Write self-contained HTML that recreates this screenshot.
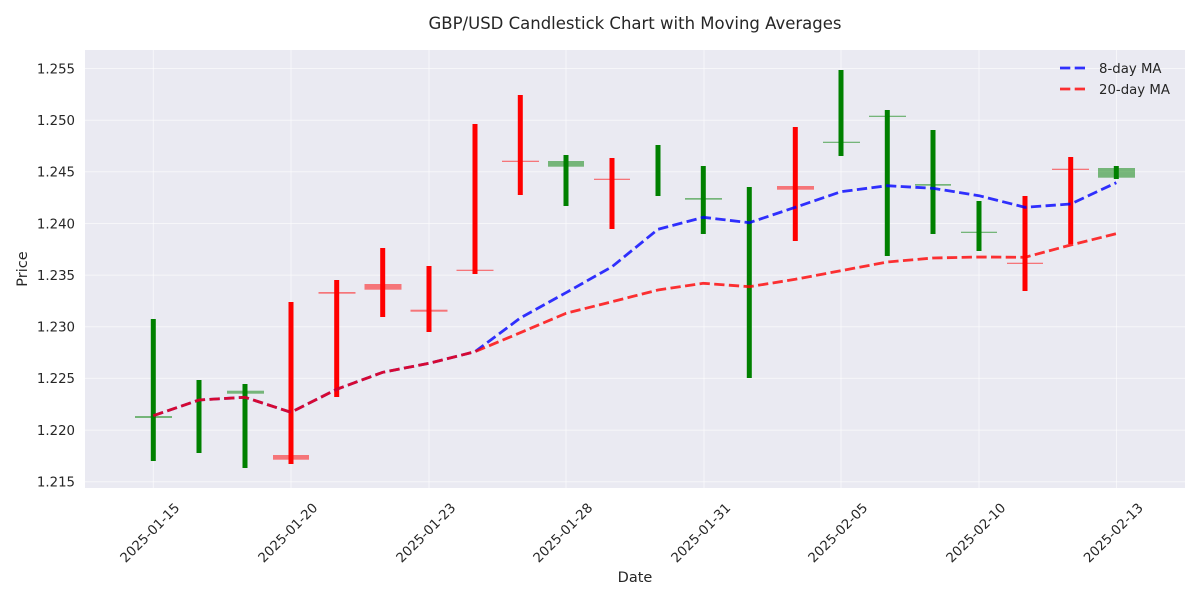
<!DOCTYPE html>
<html><head><meta charset="utf-8"><style>
body{margin:0;background:#fff}
svg{display:block}
text{font-family:"DejaVu Sans","Liberation Sans",sans-serif;fill:#262626}
</style></head><body>
<svg width="1200" height="600" xmlns="http://www.w3.org/2000/svg">
<rect x="0" y="0" width="1200" height="600" fill="#fff"/>
<rect x="85" y="50" width="1100" height="438" fill="#eaeaf2"/>
<g stroke="#fff" stroke-width="1" stroke-opacity="0.55">
<line x1="85" x2="1185" y1="68.5" y2="68.5"/><line x1="85" x2="1185" y1="120.2" y2="120.2"/>
<line x1="85" x2="1185" y1="171.8" y2="171.8"/><line x1="85" x2="1185" y1="223.5" y2="223.5"/>
<line x1="85" x2="1185" y1="275.1" y2="275.1"/><line x1="85" x2="1185" y1="326.8" y2="326.8"/>
<line x1="85" x2="1185" y1="378.4" y2="378.4"/><line x1="85" x2="1185" y1="430.1" y2="430.1"/>
<line x1="85" x2="1185" y1="481.7" y2="481.7"/>
<line y1="50" y2="488" x1="153.3" x2="153.3"/><line y1="50" y2="488" x1="291" x2="291"/>
<line y1="50" y2="488" x1="429" x2="429"/><line y1="50" y2="488" x1="566" x2="566"/>
<line y1="50" y2="488" x1="704" x2="704"/><line y1="50" y2="488" x1="841" x2="841"/>
<line y1="50" y2="488" x1="979" x2="979"/><line y1="50" y2="488" x1="1116.5" x2="1116.5"/>
</g>
<g stroke-width="5">
<line x1="153.3" x2="153.3" y1="319" y2="461" stroke="#008000"/>
<line x1="199" x2="199" y1="380" y2="453" stroke="#008000"/>
<line x1="245" x2="245" y1="384" y2="468" stroke="#008000"/>
<line x1="291" x2="291" y1="302" y2="464" stroke="#ff0000"/>
<line x1="336.7" x2="336.7" y1="280" y2="397" stroke="#ff0000"/>
<line x1="382.7" x2="382.7" y1="248" y2="317" stroke="#ff0000"/>
<line x1="429" x2="429" y1="266" y2="332" stroke="#ff0000"/>
<line x1="475" x2="475" y1="124" y2="274" stroke="#ff0000"/>
<line x1="520.3" x2="520.3" y1="95" y2="195" stroke="#ff0000"/>
<line x1="566" x2="566" y1="155" y2="206" stroke="#008000"/>
<line x1="612" x2="612" y1="158" y2="229" stroke="#ff0000"/>
<line x1="658" x2="658" y1="145" y2="196" stroke="#008000"/>
<line x1="703.3" x2="703.3" y1="166" y2="234" stroke="#008000"/>
<line x1="749.3" x2="749.3" y1="187" y2="378" stroke="#008000"/>
<line x1="795.3" x2="795.3" y1="127" y2="241" stroke="#ff0000"/>
<line x1="841" x2="841" y1="70" y2="156" stroke="#008000"/>
<line x1="887.3" x2="887.3" y1="110" y2="256" stroke="#008000"/>
<line x1="933" x2="933" y1="130" y2="234" stroke="#008000"/>
<line x1="979" x2="979" y1="201" y2="251" stroke="#008000"/>
<line x1="1025" x2="1025" y1="196" y2="291" stroke="#ff0000"/>
<line x1="1070.7" x2="1070.7" y1="157" y2="244" stroke="#ff0000"/>
<line x1="1116.3" x2="1116.3" y1="166" y2="179" stroke="#008000"/>
</g>
<g fill-opacity="0.5">
<rect x="135" y="416" width="37" height="2" fill="#008000"/>
<rect x="227" y="390.7" width="37" height="3" fill="#008000"/>
<rect x="273" y="455" width="36" height="4.7" fill="#ff0000"/>
<rect x="318.5" y="292" width="37" height="1.7" fill="#ff0000"/>
<rect x="364.5" y="284" width="37" height="5.7" fill="#ff0000"/>
<rect x="410.5" y="309.7" width="37" height="2" fill="#ff0000"/>
<rect x="456.5" y="269.7" width="37" height="1.3" fill="#ff0000"/>
<rect x="502" y="160.7" width="37" height="1.3" fill="#ff0000"/>
<rect x="548" y="161" width="36" height="5.7" fill="#008000"/>
<rect x="594" y="178.7" width="36" height="1.3" fill="#ff0000"/>
<rect x="685" y="198" width="37" height="1.7" fill="#008000"/>
<rect x="777" y="186" width="37" height="3.7" fill="#ff0000"/>
<rect x="823" y="141.7" width="37" height="1.3" fill="#008000"/>
<rect x="869" y="115.7" width="37" height="1.3" fill="#008000"/>
<rect x="915" y="184" width="36" height="1.7" fill="#008000"/>
<rect x="961" y="231.7" width="36" height="1.3" fill="#008000"/>
<rect x="1007" y="262.7" width="36" height="1.3" fill="#ff0000"/>
<rect x="1052" y="168.7" width="37" height="1.3" fill="#ff0000"/>
<rect x="1098" y="168" width="37" height="9.7" fill="#008000"/>
</g>
<polyline fill="none" stroke="#0000ff" stroke-opacity="0.8" stroke-width="2.8" stroke-dasharray="10.3 4.4"
points="153.3,415.7 199,400 245,397.3 291,412.3 336.7,389.3 382.7,372.3 429,363.3 475,351.7 520.3,318 566,292.7 612,266.7 658,229.3 703.3,217.3 749.3,222.7 795.3,207.3 841,191.7 887.3,185.7 933,188.3 979,195.7 1025,207.3 1070.7,204 1116.3,182.7"/>
<polyline fill="none" stroke="#ff0000" stroke-opacity="0.8" stroke-width="2.8" stroke-dasharray="10.3 4.4"
points="153.3,415.7 199,400 245,397.3 291,412.3 336.7,389.3 382.7,372.3 429,363.3 475,351.7 520.3,332.7 566,313.3 612,301.7 658,290 703.3,283.3 749.3,286.7 795.3,279.3 841,270.7 887.3,262 933,258 979,257 1025,257.3 1070.7,245 1116.3,233.7"/>
<g font-size="13.3" text-anchor="end">
<text x="75" y="73.3">1.255</text><text x="75" y="125">1.250</text>
<text x="75" y="176.6">1.245</text><text x="75" y="228.3">1.240</text>
<text x="75" y="279.9">1.235</text><text x="75" y="331.6">1.230</text>
<text x="75" y="383.2">1.225</text><text x="75" y="434.9">1.220</text>
<text x="75" y="486.5">1.215</text>
</g>
<g font-size="13.3" text-anchor="middle">
<text transform="translate(153,536) rotate(-45)">2025-01-15</text>
<text transform="translate(291,536) rotate(-45)">2025-01-20</text>
<text transform="translate(429,536) rotate(-45)">2025-01-23</text>
<text transform="translate(566,536) rotate(-45)">2025-01-28</text>
<text transform="translate(704,536) rotate(-45)">2025-01-31</text>
<text transform="translate(841,536) rotate(-45)">2025-02-05</text>
<text transform="translate(979,536) rotate(-45)">2025-02-10</text>
<text transform="translate(1116.5,536) rotate(-45)">2025-02-13</text>
</g>
<text x="635" y="582" font-size="14.5" text-anchor="middle">Date</text>
<text transform="translate(27,269) rotate(-90)" font-size="14.5" text-anchor="middle">Price</text>
<text x="635" y="29" font-size="16.5" text-anchor="middle">GBP/USD Candlestick Chart with Moving Averages</text>
<line x1="1060" x2="1088" y1="68" y2="68" stroke="#0000ff" stroke-opacity="0.8" stroke-width="2.8" stroke-dasharray="10.3 4.4"/>
<line x1="1060" x2="1088" y1="89" y2="89" stroke="#ff0000" stroke-opacity="0.8" stroke-width="2.8" stroke-dasharray="10.3 4.4"/>
<text x="1099" y="73" font-size="13.3">8-day MA</text>
<text x="1099" y="94" font-size="13.3">20-day MA</text>
</svg>
</body></html>
